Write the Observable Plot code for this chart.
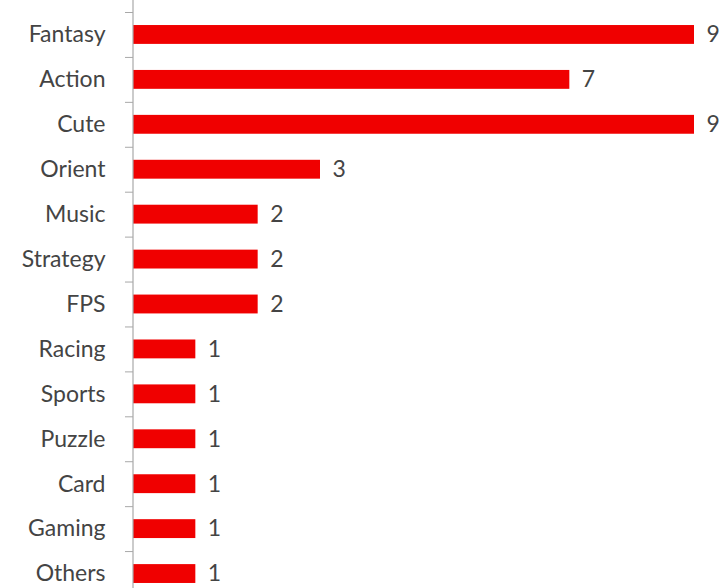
<!DOCTYPE html>
<html>
<head>
<meta charset="utf-8">
<script src="https://cdn.jsdelivr.net/npm/d3@7"></script>
<script src="https://cdn.jsdelivr.net/npm/@observablehq/plot@0.6"></script>
<style>
  html, body { margin: 0; padding: 0; background: #fff; overflow: hidden; }
  #chart svg { display: block; }
</style>
</head>
<body>
<div id="chart"></div>
<script>
const categories = ["Fantasy","Action","Cute","Orient","Music","Strategy","FPS","Racing","Sports","Puzzle","Card","Gaming","Others"];
const values = [9,7,9,3,2,2,2,1,1,1,1,1,1];

const data = categories.map((c, i) => ({category: c, value: values[i]}));
const bandStep = (596 - 12) / categories.length;

const chart = Plot.plot({
  width: 722,
  height: 588,
  marginTop: 0,
  marginBottom: 0,
  marginLeft: 0,
  marginRight: 0,
  style: {fontFamily: "Lato, sans-serif", background: "#fff", overflow: "visible"},
  x: {domain: [0, 9], range: [133, 694], axis: null},
  y: {domain: categories, range: [12, 596], paddingInner: 0.58, paddingOuter: 0.29, round: false, axis: null},
  marks: [
    Plot.barX(data, {x: "value", y: "category", fill: "#f00000"}),
    Plot.ruleX([0], {stroke: "#a8a8a8", strokeWidth: 1.2, dx: -0.5}),
    Plot.ruleY(categories, {y: d => d, x1: -8 / 62.33, x2: 0, stroke: "#a8a8a8", dy: -bandStep / 2}),
    Plot.text(data, {x: 0, y: "category", text: "category", textAnchor: "end", dx: -28, fontSize: 23, fill: "#444"}),
    Plot.text(data, {x: "value", y: "category", text: d => String(d.value), textAnchor: "start", dx: 12, fontSize: 23, fill: "#444"})
  ]
});
document.getElementById("chart").appendChild(chart);
</script>
</body>
</html>
